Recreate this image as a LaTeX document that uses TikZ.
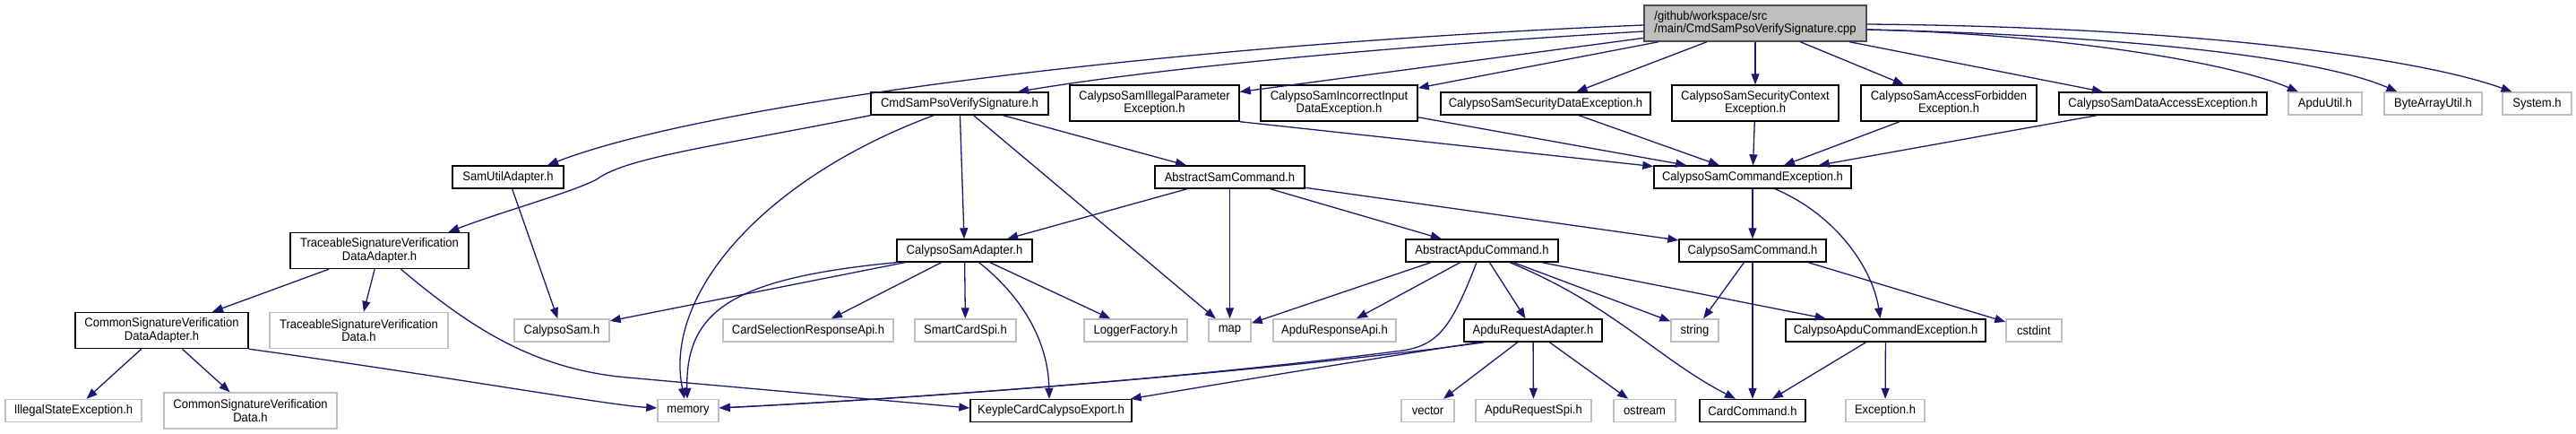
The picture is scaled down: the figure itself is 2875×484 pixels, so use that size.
\documentclass[tikz,border=0pt]{standalone}
\usepackage{fontspec}
\setmainfont[FakeStretch=0.93]{Liberation Sans}
\usetikzlibrary{arrows.meta}
\definecolor{edgeblue}{HTML}{191970}
\definecolor{extgray}{HTML}{BFBFBF}
\begin{document}
\begin{tikzpicture}[x=1pt,y=-1pt,
  box/.style={draw=black, line width=1.4pt, fill=white, inner sep=0pt, align=center,
    font=\fontsize{14pt}{14.5pt}\selectfont, minimum height=25pt},
  box2/.style={box, minimum height=40pt},
  ext/.style={box, draw=extgray},
  ext2/.style={box2, draw=extgray},
  root/.style={box2, fill=extgray, draw=black!70, align=left},
  dep/.style={draw=edgeblue, line width=1.3pt, -{Triangle[length=12pt,width=9pt]}}
]
\fill[white] (0,0) rectangle (2875,484);
\useasboundingbox (0,0) rectangle (2875,484);

% row 1
\node[root, minimum width=248pt] (cpp) at (1959,26) {/github/workspace/src\\/main/CmdSamPsoVerifySignature.cpp};
% row 2
\node[box, minimum width=198pt] (cmd) at (1071,115.5) {CmdSamPsoVerifySignature.h};
\node[box2, minimum width=189pt] (illegal) at (1288.5,115) {CalypsoSamIllegalParameter\\Exception.h};
\node[box2, minimum width=175pt] (incorrect) at (1494.5,115) {CalypsoSamIncorrectInput\\DataException.h};
\node[box, minimum width=234pt] (secdata) at (1725,115.5) {CalypsoSamSecurityDataException.h};
\node[box2, minimum width=186pt] (secctx) at (1959,115) {CalypsoSamSecurityContext\\Exception.h};
\node[box2, minimum width=196pt] (forbidden) at (2175,115) {CalypsoSamAccessForbidden\\Exception.h};
\node[box, minimum width=232pt] (dataaccess) at (2414,115.5) {CalypsoSamDataAccessException.h};
\node[ext, minimum width=82pt] (apduutil) at (2595,115.5) {ApduUtil.h};
\node[ext, minimum width=109pt] (bytearray) at (2715.5,115.5) {ByteArrayUtil.h};
\node[ext, minimum width=77pt] (system) at (2831.5,115.5) {System.h};
% row 3
\node[box, minimum width=124pt] (samutil) at (567,197.5) {SamUtilAdapter.h};
\node[box, minimum width=167pt] (abssam) at (1372.5,197.5) {AbstractSamCommand.h};
\node[box, minimum width=220pt] (cmdexc) at (1956,197.5) {CalypsoSamCommandException.h};
% row 4
\node[box2, minimum width=199pt] (traceadapter) at (423.5,279.5) {TraceableSignatureVerification\\DataAdapter.h};
\node[box, minimum width=151pt] (samadapter) at (1076.5,279.5) {CalypsoSamAdapter.h};
\node[box, minimum width=170pt] (absapdu) at (1654,279.5) {AbstractApduCommand.h};
\node[box, minimum width=164pt] (samcommand) at (1956,279.5) {CalypsoSamCommand.h};
% row 5
\node[box2, minimum width=193pt] (commonadapter) at (180.5,368.5) {CommonSignatureVerification\\DataAdapter.h};
\node[ext2, minimum width=199pt] (tracedata) at (400.5,368.5) {TraceableSignatureVerification\\Data.h};
\node[ext, minimum width=106pt] (calypsosam) at (627,368.5) {CalypsoSam.h};
\node[ext, minimum width=190pt] (cardsel) at (902,368.5) {CardSelectionResponseApi.h};
\node[ext, minimum width=113pt] (smartcard) at (1077.5,368.5) {SmartCardSpi.h};
\node[ext, minimum width=115pt] (logger) at (1267.5,368.5) {LoggerFactory.h};
\node[ext, minimum width=47pt] (map) at (1372.5,368.5) {map};
\node[ext, minimum width=137pt] (apduresp) at (1489.5,368.5) {ApduResponseApi.h};
\node[box, minimum width=154pt] (apdureq) at (1711,368.5) {ApduRequestAdapter.h};
\node[ext, minimum width=53pt] (string) at (1891.5,368.5) {string};
\node[box, minimum width=223pt] (apducmdexc) at (2104.5,368.5) {CalypsoApduCommandException.h};
\node[ext, minimum width=62pt] (cstdint) at (2270,368.5) {cstdint};
% row 6
\node[ext, minimum width=152pt] (illegalstate) at (82,458) {IllegalStateException.h};
\node[ext2, minimum width=193pt] (commondata) at (279.5,458) {CommonSignatureVerification\\Data.h};
\node[ext, minimum width=68pt] (memory) at (768,458) {memory};
\node[box, minimum width=180pt] (keyple) at (1173,458) {KeypleCardCalypsoExport.h};
\node[ext, minimum width=59pt] (vector) at (1593.5,458) {vector};
\node[ext, minimum width=129pt] (apdureqspi) at (1711.5,458) {ApduRequestSpi.h};
\node[ext, minimum width=69pt] (ostream) at (1835.5,458) {ostream};
\node[box, minimum width=118pt] (cardcommand) at (1956,458) {CardCommand.h};
\node[ext, minimum width=88pt] (exception) at (2104,458) {Exception.h};

% edges from cpp
\draw[dep] ([yshift=-2pt]cpp.west) .. controls (1300,50) and (790,115) .. ([xshift=44pt]samutil.north);
\draw[dep] ([yshift=-9pt]cpp.west) .. controls (1550,52) and (1300,75) .. ([xshift=65pt]cmd.north);
\draw[dep] (cpp) -- (illegal);
\draw[dep] (cpp) -- (incorrect);
\draw[dep] (cpp) -- (secdata);
\draw[dep] (cpp) -- (secctx);
\draw[dep] (cpp) -- (forbidden);
\draw[dep] (cpp) -- (dataaccess);
\draw[dep] ([yshift=-7pt]cpp.east) .. controls (2300,38) and (2490,70) .. ([xshift=-30pt]apduutil.north);
\draw[dep] ([yshift=-7pt]cpp.east) .. controls (2380,40) and (2590,65) .. ([xshift=-40pt]bytearray.north);
\draw[dep] ([yshift=-1pt]cpp.east) .. controls (2450,30) and (2700,65) .. ([xshift=-28pt]system.north);

% edges from CmdSamPsoVerifySignature.h
\draw[dep] (cmd.south west) .. controls (800,163) and (700,175) .. (666,200) .. controls (640,214) and (560,236) .. ([xshift=77pt]traceadapter.north);
\draw[dep] ([xshift=-29pt]cmd.south) .. controls (850,200) and (740,330) .. ([xshift=-4pt]memory.north);
\draw[dep] (cmd) -- (samadapter);
\draw[dep] (cmd) -- (map);
\draw[dep] (cmd) -- (abssam);

% AbstractSamCommand.h
\draw[dep] (abssam) -- (samadapter);
\draw[dep] (abssam) -- (map);
\draw[dep] (abssam) -- (absapdu);
\draw[dep] (abssam) -- (samcommand);

% CalypsoSamAdapter.h
\draw[dep] (samadapter.south west) .. controls (820,310) and (765,345) .. ([xshift=-1pt]memory.north);
\draw[dep] (samadapter) -- (calypsosam);
\draw[dep] (samadapter) -- (cardsel);
\draw[dep] (samadapter) -- (smartcard);
\draw[dep] ([xshift=16pt]samadapter.south) .. controls (1140,330) and (1170,380) .. ([xshift=-2pt]keyple.north);
\draw[dep] (samadapter) -- (logger);

% TraceableSignatureVerificationDataAdapter.h
\draw[dep] (traceadapter) -- (commonadapter);
\draw[dep] (traceadapter) -- (tracedata);
\draw[dep] ([xshift=24pt]traceadapter.south) .. controls (530,370) and (600,412) .. (700,421) -- ([yshift=3pt]keyple.west);

% CommonSignatureVerificationDataAdapter.h
\draw[dep] (commonadapter) -- (illegalstate);
\draw[dep] (commonadapter) -- (commondata);
\draw[dep] (commonadapter.south east) .. controls (500,420) and (680,452) .. ([yshift=3pt]memory.west);

% SamUtilAdapter.h
\draw[dep] (samutil) -- (calypsosam);

% AbstractApduCommand.h
\draw[dep] ([xshift=-57pt]absapdu.south) -- (map);
\draw[dep] (absapdu) -- (apduresp);
\draw[dep] ([xshift=-6pt]absapdu.south) .. controls (1620,365) and (1605,385) .. (1565,391) .. controls (1300,425) and (1000,445) .. ([yshift=3pt]memory.east);
\draw[dep] (absapdu) -- (apdureq);
\draw[dep] ([xshift=31pt]absapdu.south) .. controls (1800,340) and (1850,400) .. ([xshift=-19pt]cardcommand.north);
\draw[dep] (absapdu) -- (string);
\draw[dep] (absapdu) -- (apducmdexc);

% ApduRequestAdapter.h
\draw[dep] ([xshift=-54pt]apdureq.south) .. controls (1450,410) and (1100,440) .. ([yshift=3pt]memory.east);
\draw[dep] ([xshift=-60pt]apdureq.south) .. controls (1500,405) and (1350,430) .. ([xshift=-2pt]keyple.north east);
\draw[dep] (apdureq) -- (vector);
\draw[dep] (apdureq) -- (apdureqspi);
\draw[dep] (apdureq) -- (ostream);

% CalypsoSamCommand.h
\draw[dep] (samcommand) -- (string);
\draw[dep] (samcommand) -- (cardcommand);
\draw[dep] ([xshift=62pt]samcommand.south) -- (cstdint);

% CalypsoSamCommandException.h
\draw[dep] (cmdexc) -- (samcommand);
\draw[dep] ([xshift=25pt]cmdexc.south) .. controls (2050,240) and (2090,300) .. ([xshift=-6pt]apducmdexc.north);

% CalypsoApduCommandException.h
\draw[dep] (apducmdexc) -- (cardcommand);
\draw[dep] (apducmdexc) -- (exception);

% exception headers
\draw[dep] (illegal.south east) -- (cmdexc);
\draw[dep] (incorrect) -- (cmdexc);
\draw[dep] (secdata) -- (cmdexc);
\draw[dep] (secctx) -- (cmdexc);
\draw[dep] (forbidden) -- (cmdexc);
\draw[dep] (dataaccess) -- (cmdexc);
\end{tikzpicture}
\end{document}
